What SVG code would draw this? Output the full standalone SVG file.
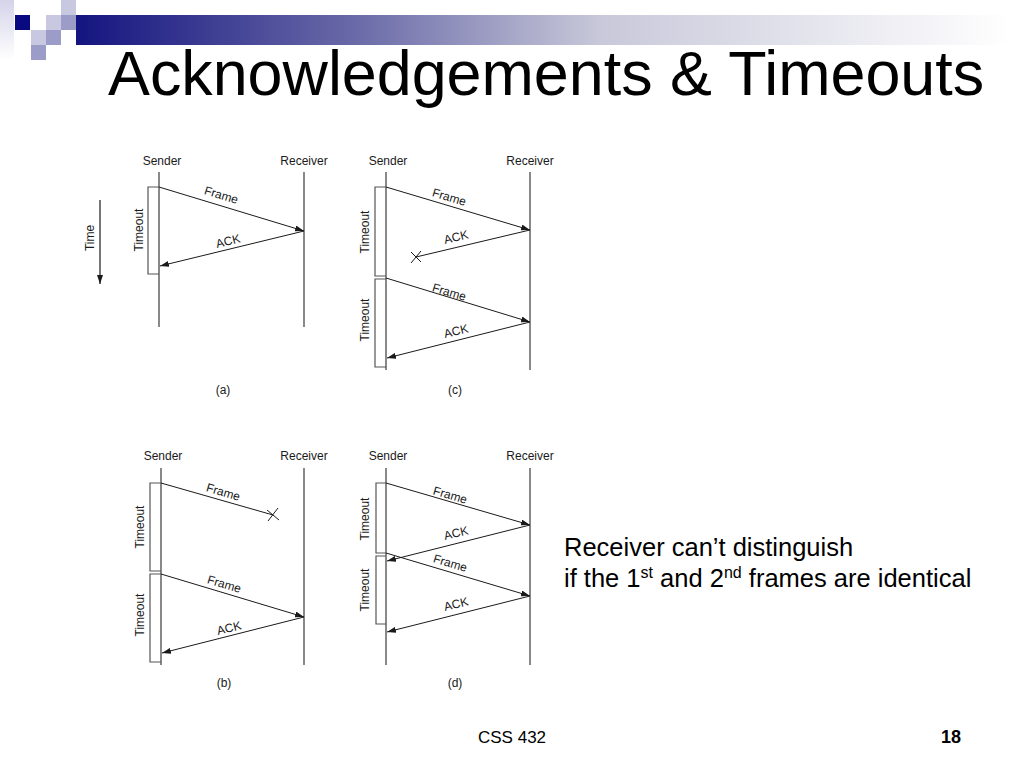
<svg xmlns="http://www.w3.org/2000/svg" width="1024" height="768" viewBox="0 0 1024 768">
<style>
.lbl{font-family:"Liberation Sans",Arial,sans-serif;font-size:12px;fill:#1a1a1a}
.mid{text-anchor:middle}
.life{stroke:#3a3a3a;stroke-width:1.2;fill:none}
.msg{stroke:#1a1a1a;stroke-width:1;fill:none}
.brk{stroke:#555;stroke-width:1.2;fill:none}
.big{font-family:"Liberation Sans",Arial,sans-serif;fill:#000}
</style>
<defs>
<linearGradient id="bar" x1="76" y1="0" x2="1010" y2="0" gradientUnits="userSpaceOnUse">
<stop offset="0" stop-color="#141480"/>
<stop offset="0.3" stop-color="#6a6aa8"/>
<stop offset="0.56" stop-color="#c8c8da"/>
<stop offset="1" stop-color="#ffffff"/>
</linearGradient>
<linearGradient id="fade" x1="0" y1="0" x2="0" y2="1">
<stop offset="0" stop-color="#d4d4ea"/>
<stop offset="1" stop-color="#ffffff"/>
</linearGradient>
<marker id="ah" markerWidth="9" markerHeight="6" refX="9" refY="3" orient="auto" markerUnits="userSpaceOnUse">
<path d="M0,0 L9,3 L0,6 z" fill="#1a1a1a"/>
</marker>
</defs>
<rect width="1024" height="768" fill="#fff"/>
<g id="header">
<rect x="0" y="0" width="14" height="60" fill="url(#fade)"/>
<rect x="76" y="15" width="934" height="30" fill="url(#bar)"/>
<rect x="15" y="15" width="15" height="15" fill="#0a0a80"/>
<rect x="46" y="15" width="15" height="15" fill="#c8c8e0"/>
<rect x="61" y="15" width="15" height="15" fill="#9c9cc8"/>
<rect x="61" y="0" width="15" height="15" fill="#c8c8e0"/>
<rect x="31" y="30" width="15" height="15" fill="#c8c8e0"/>
<rect x="46" y="30" width="15" height="15" fill="#9c9cc8"/>
<rect x="31" y="45" width="15" height="15" fill="#9c9cc8"/>
<text class="big" x="108" y="95" font-size="62.8">Acknowledgements &amp; Timeouts</text>
</g>
<g id="panel-a">
<text class="lbl mid" x="162" y="165">Sender</text>
<text class="lbl mid" x="304" y="165">Receiver</text>
<line class="life" x1="159" y1="172" x2="159" y2="327"/>
<line class="life" x1="304" y1="172" x2="304" y2="327"/>
<polyline class="brk" points="159,187 148,187 148,274 159,274"/>
<text class="lbl mid" transform="translate(143,230) rotate(-90)">Timeout</text>
<line x1="100" y1="200" x2="100" y2="284" stroke="#1a1a1a" stroke-width="1.2" marker-end="url(#ah)"/>
<text class="lbl mid" transform="translate(94,238) rotate(-90)">Time</text>
<text class="lbl mid" transform="translate(220,199) rotate(16.9)">Frame</text>
<text class="lbl mid" transform="translate(229,245) rotate(-13.7)">ACK</text>
<text class="lbl mid" x="223" y="394">(a)</text>
</g>
<g id="panel-c">
<text class="lbl mid" x="388" y="165">Sender</text>
<text class="lbl mid" x="530" y="165">Receiver</text>
<line class="life" x1="386" y1="172" x2="386" y2="370"/>
<line class="life" x1="530" y1="172" x2="530" y2="370"/>
<polyline class="brk" points="386,187 375,187 375,276 386,276"/>
<polyline class="brk" points="386,279 375,279 375,367 386,367"/>
<text class="lbl mid" transform="translate(369,232) rotate(-90)">Timeout</text>
<text class="lbl mid" transform="translate(369,320) rotate(-90)">Timeout</text>
<text class="lbl mid" transform="translate(448,201) rotate(16.6)">Frame</text>
<text class="lbl mid" transform="translate(457,241) rotate(-13.7)">ACK</text>
<text class="lbl mid" transform="translate(448,296) rotate(16.6)">Frame</text>
<text class="lbl mid" transform="translate(457,335) rotate(-13.7)">ACK</text>
<line class="msg" x1="411" y1="263" x2="421" y2="251"/>
<line class="msg" x1="411" y1="252" x2="421" y2="262"/>
<text class="lbl mid" x="455" y="394">(c)</text>
</g>
<g id="panel-b">
<text class="lbl mid" x="163" y="460">Sender</text>
<text class="lbl mid" x="304" y="460">Receiver</text>
<line class="life" x1="161" y1="468" x2="161" y2="665"/>
<line class="life" x1="304" y1="468" x2="304" y2="665"/>
<polyline class="brk" points="161,483 150,483 150,571 161,571"/>
<polyline class="brk" points="161,574 150,574 150,662 161,662"/>
<text class="lbl mid" transform="translate(144,527) rotate(-90)">Timeout</text>
<text class="lbl mid" transform="translate(144,615) rotate(-90)">Timeout</text>
<text class="lbl mid" transform="translate(222,496) rotate(16.5)">Frame</text>
<text class="lbl mid" transform="translate(223,588) rotate(16.7)">Frame</text>
<text class="lbl mid" transform="translate(230,632) rotate(-14)">ACK</text>
<line class="msg" x1="268" y1="521" x2="278" y2="508"/>
<line class="msg" x1="267" y1="510" x2="279" y2="520"/>
<text class="lbl mid" x="224" y="687">(b)</text>
</g>
<g id="panel-d">
<text class="lbl mid" x="388" y="460">Sender</text>
<text class="lbl mid" x="530" y="460">Receiver</text>
<line class="life" x1="386" y1="468" x2="386" y2="665"/>
<line class="life" x1="530" y1="468" x2="530" y2="665"/>
<polyline class="brk" points="386,483 376,483 376,553 386,553"/>
<polyline class="brk" points="386,556 376,556 376,624 386,624"/>
<text class="lbl mid" transform="translate(369,519) rotate(-90)">Timeout</text>
<text class="lbl mid" transform="translate(369,590) rotate(-90)">Timeout</text>
<text class="lbl mid" transform="translate(449,499) rotate(16.3)">Frame</text>
<text class="lbl mid" transform="translate(457,537) rotate(-13.8)">ACK</text>
<text class="lbl mid" transform="translate(449,567) rotate(16.6)">Frame</text>
<text class="lbl mid" transform="translate(457,608) rotate(-14)">ACK</text>
<text class="lbl mid" x="455" y="687">(d)</text>
</g>
<g id="connectors">
<line class="msg" x1="159" y1="187" x2="304" y2="231" marker-end="url(#ah)"/>
<line class="msg" x1="304" y1="231" x2="160" y2="266" marker-end="url(#ah)"/>
<line class="msg" x1="386" y1="187" x2="530" y2="230" marker-end="url(#ah)"/>
<line class="msg" x1="530" y1="230" x2="416" y2="257"/>
<line class="msg" x1="386" y1="278" x2="530" y2="322" marker-end="url(#ah)"/>
<line class="msg" x1="530" y1="322" x2="387" y2="358" marker-end="url(#ah)"/>
<line class="msg" x1="161" y1="483" x2="273" y2="515"/>
<line class="msg" x1="161" y1="574" x2="304" y2="617" marker-end="url(#ah)"/>
<line class="msg" x1="304" y1="617" x2="162" y2="653" marker-end="url(#ah)"/>
<line class="msg" x1="386" y1="483" x2="530" y2="525" marker-end="url(#ah)"/>
<line class="msg" x1="530" y1="525" x2="387" y2="561" marker-end="url(#ah)"/>
<line class="msg" x1="386" y1="553" x2="530" y2="596" marker-end="url(#ah)"/>
<line class="msg" x1="530" y1="596" x2="387" y2="632" marker-end="url(#ah)"/>
</g>
<g id="note">
<text class="big" x="564" y="556" font-size="25.5">Receiver can’t distinguish</text>
<text class="big" x="564" y="587" font-size="25.5">if the 1<tspan font-size="16" dy="-9">st</tspan><tspan dy="9"> and 2</tspan><tspan font-size="16" dy="-9">nd</tspan><tspan dy="9"> frames are identical</tspan></text>
</g>
<g id="footer">
<text class="big" x="478" y="743" font-size="17">CSS 432</text>
<text class="big" x="961" y="743" font-size="18" font-weight="bold" text-anchor="end">18</text>
</g>
</svg>
